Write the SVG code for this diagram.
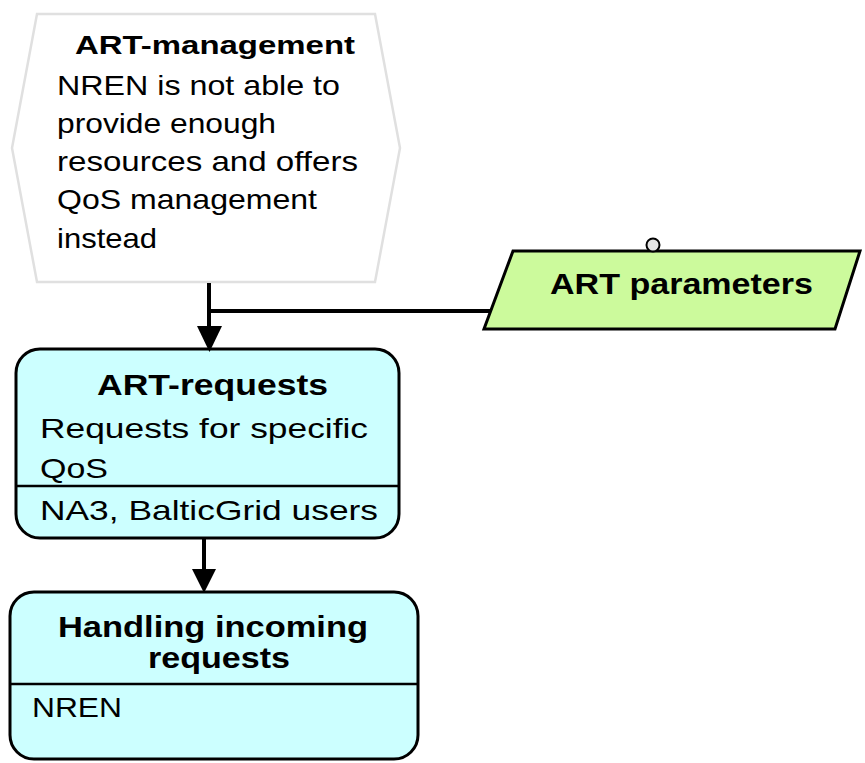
<svg xmlns="http://www.w3.org/2000/svg" width="865" height="763" viewBox="0 0 865 763">
  <style>
    text { font-family: "Liberation Sans", Arial, sans-serif; fill: #000; }
    .b { font-weight: bold; }
    .n { font-size: 28px; }
    .event { fill: #ffffff; stroke: #e0e0e0; stroke-width: 2.5; }
    .func { fill: #ccffff; stroke: #000; stroke-width: 3; }
    .info { fill: #ccfa9c; stroke: #000; stroke-width: 3; }
    .sep { stroke: #000; stroke-width: 2.5; }
    .edge { fill: none; stroke: #000; stroke-width: 4; }
    .head { fill: #000; }
  </style>

  <!-- event: ART-management -->
  <g id="art-management">
    <polygon class="event" points="37,14 375,14 400,148 375,282 37,282 12,148"/>
    <text class="b" x="75" y="54" font-size="26" textLength="280" lengthAdjust="spacingAndGlyphs">ART-management</text>
    <text class="n" x="57" y="95" textLength="283" lengthAdjust="spacingAndGlyphs">NREN is not able to</text>
    <text class="n" x="57" y="133" textLength="219" lengthAdjust="spacingAndGlyphs">provide enough</text>
    <text class="n" x="57" y="171" textLength="301" lengthAdjust="spacingAndGlyphs">resources and offers</text>
    <text class="n" x="57" y="209" textLength="260" lengthAdjust="spacingAndGlyphs">QoS management</text>
    <text class="n" x="57" y="248" textLength="100" lengthAdjust="spacingAndGlyphs">instead</text>
  </g>

  <!-- information object: ART parameters -->
  <g id="art-parameters">
    <polygon class="info" points="513,251 860,251 835,329 484,329"/>
    <circle cx="653" cy="245" r="6.5" fill="#e6e6e6" stroke="#000" stroke-width="2"/>
    <text class="b" x="550" y="294" font-size="30" textLength="263" lengthAdjust="spacingAndGlyphs">ART parameters</text>
  </g>

  <!-- function: ART-requests -->
  <g id="art-requests">
    <rect class="func" x="16" y="349" width="383" height="189" rx="24" ry="24"/>
    <line class="sep" x1="16" y1="486" x2="399" y2="486"/>
    <text class="b" x="97" y="395" font-size="30" textLength="231" lengthAdjust="spacingAndGlyphs">ART-requests</text>
    <text class="n" x="40" y="438" textLength="328" lengthAdjust="spacingAndGlyphs">Requests for specific</text>
    <text class="n" x="40" y="478" textLength="68" lengthAdjust="spacingAndGlyphs">QoS</text>
    <text class="n" x="40" y="520" textLength="338" lengthAdjust="spacingAndGlyphs">NA3, BalticGrid users</text>
  </g>

  <!-- function: Handling incoming requests -->
  <g id="handling-requests">
    <rect class="func" x="10" y="592" width="408" height="167" rx="24" ry="24"/>
    <line class="sep" x1="10" y1="684" x2="418" y2="684"/>
    <text class="b" x="58" y="637" font-size="30" textLength="310" lengthAdjust="spacingAndGlyphs">Handling incoming</text>
    <text class="b" x="148" y="668" font-size="30" textLength="142" lengthAdjust="spacingAndGlyphs">requests</text>
    <text class="n" x="32" y="717" textLength="90" lengthAdjust="spacingAndGlyphs">NREN</text>
  </g>

  <!-- connectors -->
  <g id="connectors">
    <path class="edge" d="M209,283 V330"/>
    <path class="edge" d="M209,311 H490"/>
    <polygon class="head" points="197,326 222,326 209.5,352"/>
    <path class="edge" d="M204,537 V572"/>
    <polygon class="head" points="192,569 216,569 204,593"/>
  </g>
</svg>
